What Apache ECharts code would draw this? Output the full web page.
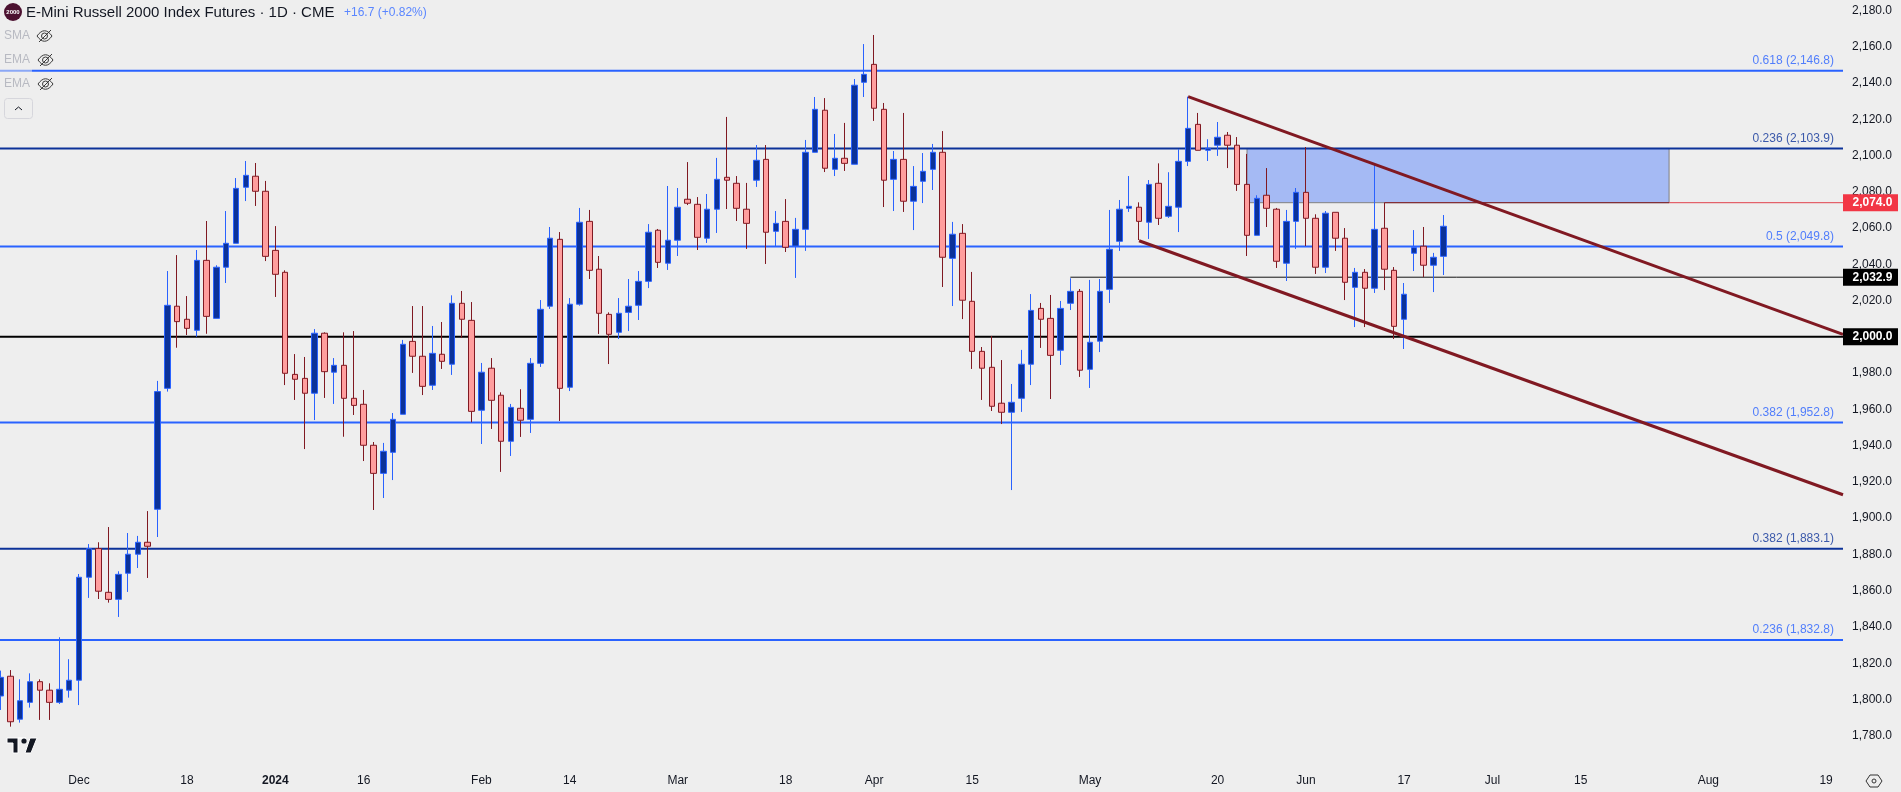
<!DOCTYPE html>
<html>
<head>
<meta charset="utf-8">
<style>
  html, body { margin: 0; padding: 0; background: #eeeeee; }
  #chart { width: 1901px; height: 792px; }
</style>
<script src="https://cdn.jsdelivr.net/npm/echarts@6/dist/echarts.min.js"></script>
</head>
<body>
<div id="chart"></div>
<script>
// daily bars
var opens = [
  1801.9,1812.8,1789.1,1798.4,1809.8,1805.1,1798.4,1805.1,1810.6,1867.4,
  1883.2,1859.1,1855.2,1869.6,1880.1,1886.7,1904.9,1971.6,2016.9,2009.7,
  2003.6,2042.2,2010.2,2038.4,2051.6,2082.5,2088.6,2080.3,2047.7,2035.6,
  1979.3,1977.1,1968.9,2002.0,1980.5,1984.3,1966.1,1962.8,1940.2,1924.7,
  1936.3,1957.3,1997.5,1989.3,1973.3,1990.4,1984.9,2018.5,2009.1,1959.5,
  1982.7,1967.8,1942.4,1960.6,1954.5,1985.4,2016.9,2053.8,1972.2,2018.0,
  2063.7,2037.3,2012.4,2002.5,2013.5,2017.4,2030.6,2058.8,2040.6,2053.3,
  2075.9,2073.1,2054.4,2070.4,2088.0,2084.7,2070.4,2086.4,2097.9,2058.2,
  2063.7,2050.1,2059.3,2101.8,2125.0,2092.4,2098.5,2095.2,2140.4,2150.3,
  2125.5,2086.9,2097.9,2074.8,2085.8,2092.4,2101.8,2043.3,2057.1,2019.6,
  1992.0,1983.2,1963.4,1958.4,1966.1,1984.9,2015.7,2010.2,1992.6,2018.5,
  2025.1,1982.1,1997.6,2026.2,2052.7,2070.9,2071.5,2063.2,2084.7,2066.5,
  2071.5,2096.8,2117.2,2102.9,2105.7,2111.2,2105.7,2084.1,2056.0,2078.1,
  2070.4,2040.6,2063.7,2079.7,2065.4,2038.4,2068.7,2054.4,2027.3,2035.6,
  2026.8,2059.9,2036.7,2009.7,2046.1,2050.0,2039.5,2044.4
];
var closes = [
  1812.2,1787.7,1799.3,1809.8,1805.1,1798.4,1805.6,1810.6,1867.4,1883.2,
  1859.7,1855.2,1869.0,1880.1,1886.7,1884.5,1969.8,2017.4,2008.4,2004.7,
  2042.2,2011.3,2038.4,2051.6,2081.9,2089.1,2080.3,2044.4,2034.5,1979.9,
  1976.6,1968.9,2002.0,1980.8,1984.3,1966.1,1962.2,1940.2,1924.7,1936.9,
  1954.5,1995.9,1989.3,1972.7,1990.9,1986.5,2018.5,2009.7,1958.9,1980.5,
  1965.0,1942.4,1961.1,1954.0,1985.4,2015.2,2054.4,1971.6,2018.0,2063.2,
  2036.7,2013.0,2001.4,2013.0,2016.9,2030.6,2057.7,2041.1,2053.3,2071.5,
  2073.7,2054.9,2070.4,2086.9,2086.4,2070.9,2062.6,2097.4,2057.7,2062.6,
  2049.4,2059.3,2101.8,2125.5,2093.0,2098.5,2095.7,2138.8,2144.8,2126.1,
  2086.4,2097.9,2074.8,2083.0,2091.3,2101.8,2043.9,2056.6,2020.2,1992.0,
  1982.7,1961.7,1958.4,1963.9,1984.9,2014.6,2009.7,1989.8,2015.7,2025.1,
  1981.6,1997.0,2025.1,2048.3,2070.4,2072.0,2063.7,2084.1,2065.4,2072.0,
  2096.8,2115.0,2102.9,2104.0,2110.1,2105.7,2084.1,2056.0,2076.4,2070.9,
  2041.7,2063.7,2079.7,2065.4,2038.4,2068.2,2054.4,2030.1,2035.6,2026.8,
  2059.3,2037.3,2005.8,2023.5,2049.2,2039.5,2043.9,2061.0
];
var lows = [
  1794.2,1785.0,1787.2,1795.5,1788.7,1788.7,1797.5,1801.0,1796.9,1856.0,
  1855.4,1853.4,1845.5,1859.3,1872.5,1867.0,1889.6,1969.8,1994.0,2001.0,
  2000.1,2001.7,2010.2,2029.7,2051.6,2074.9,2072.2,2041.8,2022.0,1973.4,
  1965.2,1938.1,1954.1,1966.3,1963.0,1944.9,1956.9,1931.5,1904.5,1911.1,
  1921.0,1957.3,1980.1,1967.9,1970.7,1982.3,1979.0,1999.4,1952.9,1940.9,
  1949.2,1925.5,1934.3,1944.8,1947.0,1983.4,2015.4,1953.6,1970.1,2017.2,
  2031.9,2001.6,1985.0,1998.8,2003.2,2009.3,2026.9,2038.0,2036.9,2044.6,
  2072.7,2047.9,2051.8,2057.3,2070.5,2063.9,2048.5,2082.7,2040.2,2049.6,
  2046.8,2032.5,2047.4,2101.8,2090.9,2088.7,2091.5,2095.2,2132.3,2119.1,
  2071.6,2069.4,2068.9,2058.9,2073.8,2081.0,2027.5,2017.0,2009.8,1982.3,
  1965.2,1959.1,1951.9,1915.5,1958.6,1973.4,1993.9,1965.7,1984.5,2014.8,
  1977.9,1971.8,1991.6,2018.7,2047.4,2068.9,2053.4,2054.0,2061.7,2065.6,
  2057.8,2094.2,2102.9,2097.0,2099.8,2093.1,2080.5,2044.6,2056.0,2060.6,
  2038.0,2030.8,2048.5,2050.1,2034.7,2035.2,2047.4,2020.3,2005.4,2005.4,
  2024.2,2025.8,1998.8,1993.3,2036.3,2033.0,2024.7,2034.1
];
var highs = [
  1815.9,1816.2,1811.1,1814.4,1811.1,1808.9,1834.3,1822.2,1869.2,1885.7,
  1886.7,1895.1,1870.7,1891.8,1890.2,1903.9,1975.7,2036.3,2045.1,2022.5,
  2047.9,2063.9,2039.5,2069.4,2087.6,2097.0,2095.9,2086.0,2061.1,2036.7,
  1990.5,1988.9,2004.3,2002.5,1988.3,2002.5,2003.2,1970.7,1942.0,1941.5,
  1958.0,1998.3,2017.0,2017.0,2006.0,2008.2,2022.9,2025.3,2019.2,1985.6,
  1988.3,1969.4,1963.0,1971.1,1988.3,2020.3,2060.6,2057.8,2021.4,2071.1,
  2070.0,2044.6,2013.5,2021.4,2031.9,2036.3,2062.2,2059.5,2083.2,2082.1,
  2096.4,2077.1,2078.8,2098.7,2121.3,2088.7,2084.9,2105.8,2105.8,2069.4,
  2076.0,2065.6,2108.6,2132.3,2131.7,2111.9,2118.0,2142.2,2161.5,2166.5,
  2129.0,2102.5,2123.5,2094.2,2101.4,2106.4,2113.5,2063.4,2062.2,2035.8,
  1994.4,2000.5,1987.2,1974.0,1992.8,2023.6,2018.7,2023.1,2019.8,2032.3,
  2026.4,2031.4,2031.9,2070.0,2075.5,2088.7,2074.2,2086.5,2095.7,2090.8,
  2103.5,2132.5,2123.5,2109.0,2118.5,2113.0,2110.2,2100.9,2078.1,2093.1,
  2071.1,2070.0,2082.1,2104.7,2067.6,2069.4,2068.7,2060.0,2038.0,2037.4,
  2094.8,2074.0,2038.5,2029.7,2058.9,2060.6,2046.3,2067.2
];

// tick labels
var yTicks = [1780,1800,1820,1840,1860,1880,1900,1920,1940,1960,1980,2000,2020,2040,2060,2080,2100,2120,2140,2160,2180];
var xTickBars = [8,19,28,37,49,58,69,80,89,99,111,124,133,143,152,161,174,186];
var xTickText = ['Dec','18','2024','16','Feb','14','Mar','18','Apr','15','May','20','Jun','17','Jul','15','Aug','19'];

// fib levels
var fibPrices = [2146.8,2103.9,2049.8,1952.8,1883.1,1832.8];
var fibNames = ['0.618','0.236','0.5','0.382','0.382','0.236'];
var fibColors = ['#2962ff','#0c3299','#2962ff','#2962ff','#0c3299','#2962ff'];
var fibTextColors = ['#2962ff','#0c3299','#2962ff','#2962ff','#0c3299','#2962ff'];

// drawn lines, [bar, price]
var upperTrend = [[121,2132.5],[187.72,2001.4]];
var lowerTrend = [[116,2053.0],[187.72,1912.9]];
var zoneBars = [127,170];
var zonePrices = [2074.0,2103.9];
var tagPrices = [2074.0,2032.9,2000.0];
var tagColors = ['#f23645','#000000','#000000'];
var tagLineStart = [170,109,-0.05];
var tagLineWidth = [1,1,2];
var tagLineColors = ['#e0404c','#131313','#000000'];
var zoneRay = [[141,2074.0],[170,2074.0]];

var xMin = -0.05, xMax = 187.72;
var yMin = 1762.74, yMax = 2185.8;
var fontName = '"Liberation Sans", Arial, sans-serif';

function fmt(v) {
  return v.toLocaleString('en-US', { minimumFractionDigits: 1, maximumFractionDigits: 1 });
}

var candleData = opens.map(function (o, i) {
  return [i, o, closes[i], lows[i], highs[i]];
});

var series = [];

series.push({
  name: 'zone',
  type: 'line',
  data: [],
  silent: true,
  markArea: {
    silent: true,
    z: 1,
    itemStyle: { color: 'rgba(41,98,255,0.37)', borderColor: '#808080', borderWidth: 1 },
    data: [[{ coord: [zoneBars[0], zonePrices[1]] }, { coord: [zoneBars[1], zonePrices[0]] }]]
  }
});

fibPrices.forEach(function (p, i) {
  series.push({
    type: 'line', z: 2, symbol: 'none', silent: true,
    lineStyle: { color: fibColors[i], width: 2 },
    data: [[xMin, p], [xMax, p]]
  });
});

tagPrices.forEach(function (p, i) {
  series.push({
    type: 'line', z: 2, symbol: 'none', silent: true,
    lineStyle: { color: tagLineColors[i], width: tagLineWidth[i] },
    data: [[tagLineStart[i], p], [xMax, p]]
  });
});

series.push({
  type: 'line', z: 2, symbol: 'none', silent: true,
  lineStyle: { color: '#801922', width: 1 },
  data: zoneRay
});

series.push({
  name: 'E-Mini Russell 2000',
  type: 'candlestick',
  z: 3,
  barWidth: 6,
  silent: true,
  itemStyle: {
    color: '#0c3299',
    color0: '#ff9e9e',
    borderColor: '#2962ff',
    borderColor0: '#801922',
    borderWidth: 1
  },
  data: candleData
});

[upperTrend, lowerTrend].forEach(function (t) {
  series.push({
    type: 'line', z: 4, symbol: 'none', silent: true,
    lineStyle: { color: '#801922', width: 3 },
    data: t
  });
});

// fib text, sits right above each level
series.push({
  type: 'scatter', z: 5, symbolSize: 0, silent: true,
  data: fibPrices.map(function (p, i) {
    return {
      value: [186.8, p],
      label: {
        show: true, position: 'top', distance: 4, align: 'right',
        color: fibTextColors[i], fontSize: 12, fontFamily: fontName,
        formatter: fibNames[i] + ' (' + fmt(p) + ')'
      }
    };
  })
});

// price tags on the axis
series.push({
  type: 'scatter', z: 6, clip: false, silent: true,
  symbol: 'rect', symbolSize: [55, 17], symbolOffset: [27.5, 0],
  data: tagPrices.map(function (p, i) {
    return {
      value: [xMax, p],
      itemStyle: { color: tagColors[i], opacity: 1 },
      label: {
        show: true, position: 'inside', offset: [2, 0],
        color: '#ffffff', fontSize: 12, fontWeight: 'bold', fontFamily: fontName,
        formatter: fmt(p)
      }
    };
  })
});

function eye(x, y) {
  var st = { stroke: '#3a3a3a', fill: null, lineWidth: 1 };
  return [
    { type: 'bezierCurve', shape: { x1: x, y1: y, cpx1: x + 5, cpy1: y - 7, cpx2: x + 10, cpy2: y - 7, x2: x + 15, y2: y }, style: st },
    { type: 'bezierCurve', shape: { x1: x, y1: y, cpx1: x + 5, cpy1: y + 7, cpx2: x + 10, cpy2: y + 7, x2: x + 15, y2: y }, style: st },
    { type: 'circle', shape: { cx: x + 7.5, cy: y, r: 3 }, style: st },
    { type: 'line', shape: { x1: x + 2, y1: y + 6, x2: x + 14, y2: y - 6 }, style: st }
  ];
}

function legendText(text, y) {
  return { type: 'text', x: 4, y: y, style: { text: text, fill: '#b8bac2', font: '12px ' + fontName, textVerticalAlign: 'middle' } };
}

var graphics = [
  { type: 'rect', shape: { x: 0, y: 69, width: 32, height: 3 }, style: { fill: 'rgba(238,238,238,0.5)' }, z: 20 },
  { type: 'circle', shape: { cx: 13, cy: 12, r: 9 }, style: { fill: '#4c1130' }, z: 20 },
  { type: 'text', x: 13, y: 12, z: 21, style: { text: '2000', fill: '#ffffff', font: 'bold 6px ' + fontName, textAlign: 'center', textVerticalAlign: 'middle' } },
  { type: 'text', x: 26, y: 13, z: 20, style: { text: 'E-Mini Russell 2000 Index Futures · 1D · CME', fill: '#131722', font: '15px ' + fontName, textVerticalAlign: 'middle' } },
  { type: 'text', x: 344, y: 13, z: 20, style: { text: '+16.7 (+0.82%)', fill: '#5a86ff', font: '12px ' + fontName, textVerticalAlign: 'middle' } },
  legendText('SMA', 36), legendText('EMA', 60), legendText('EMA', 84),
  { type: 'rect', shape: { x: 4.5, y: 98.5, width: 28, height: 20, r: 3 }, style: { fill: null, stroke: '#d6d6dc', lineWidth: 1 } },
  { type: 'polyline', shape: { points: [[15, 110], [18.5, 107], [22, 110]] }, style: { fill: null, stroke: '#131722', lineWidth: 1 } },
  // tradingview mark
  { type: 'polygon', shape: { points: [[7, 738], [26, 738], [26, 738], [18, 738], [18, 753], [13, 753], [13, 743], [7, 743]] }, style: { fill: '#131722', stroke: '#ffffff', lineWidth: 1 }, z: 20 },
  { type: 'polygon', shape: { points: [[30, 738], [37, 738], [31, 753], [25, 753]] }, style: { fill: '#131722', stroke: '#ffffff', lineWidth: 1 }, z: 20 },
  { type: 'circle', shape: { cx: 24, cy: 741, r: 2.6 }, style: { fill: '#131722' }, z: 21 },
  // settings hexagon
  { type: 'polygon', shape: { points: [[1870, 775], [1878, 775], [1882, 781], [1878, 787], [1870, 787], [1866, 781]] }, style: { fill: null, stroke: '#333333', lineWidth: 1 } },
  { type: 'circle', shape: { cx: 1874, cy: 781, r: 2 }, style: { fill: null, stroke: '#333333', lineWidth: 1 } }
].concat(eye(37, 36), eye(38, 60), eye(38, 84));

var chart = echarts.init(document.getElementById('chart'), null, { renderer: 'canvas' });
chart.setOption({
  animation: false,
  backgroundColor: '#eeeeee',
  grid: { left: 0, right: 58, top: 0, bottom: 25 },
  xAxis: {
    type: 'value', min: xMin, max: xMax,
    axisLine: { show: false }, axisTick: { show: false }, splitLine: { show: false },
    axisLabel: {
      customValues: xTickBars,
      margin: 8,
      hideOverlap: false,
      color: '#131722', fontSize: 12, fontFamily: fontName,
      formatter: function (v) {
        var t = xTickText[xTickBars.indexOf(v)];
        return t === '2024' ? '{b|' + t + '}' : t;
      },
      rich: { b: { fontWeight: 'bold', fontSize: 12, color: '#131722', fontFamily: fontName } }
    }
  },
  yAxis: {
    type: 'value', position: 'right', min: yMin, max: yMax,
    axisLine: { show: false }, axisTick: { show: false }, splitLine: { show: false },
    axisLabel: {
      customValues: yTicks,
      margin: 9,
      color: '#131722', fontSize: 12, fontFamily: fontName,
      formatter: function (v) { return fmt(v); }
    }
  },
  graphic: { elements: graphics },
  series: series
});
</script>
</body>
</html>
